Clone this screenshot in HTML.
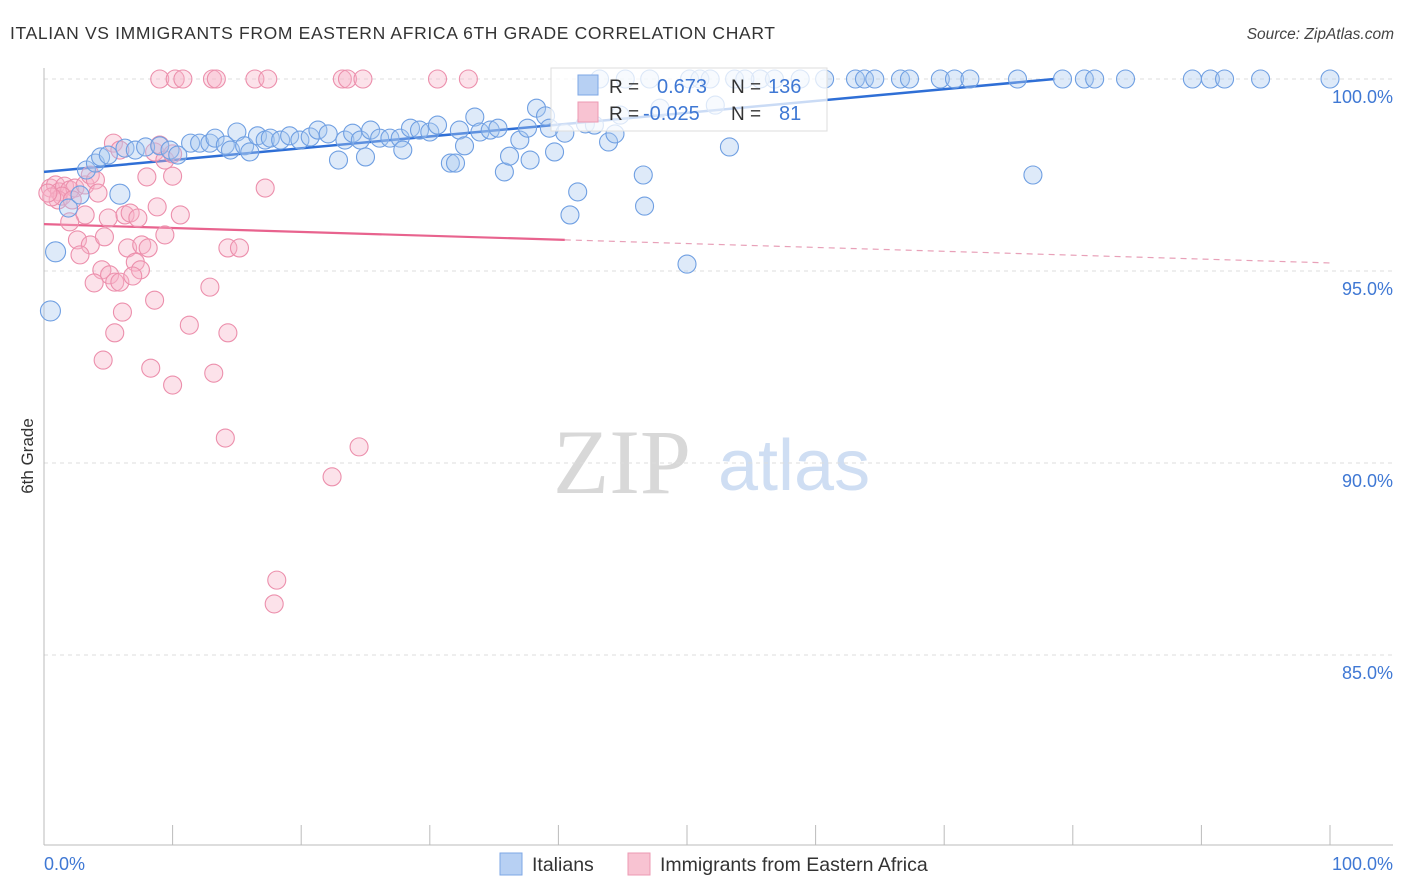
<!DOCTYPE html>
<html><head><meta charset="utf-8"><style>
body{margin:0;background:#fff;font-family:"Liberation Sans",sans-serif}
svg{display:block}
</style></head><body>
<svg id="chart" width="1406" height="892" xmlns="http://www.w3.org/2000/svg" font-family="Liberation Sans, sans-serif">
<text x="10" y="39" font-size="17.5" fill="#333" textLength="765" lengthAdjust="spacing">ITALIAN VS IMMIGRANTS FROM EASTERN AFRICA 6TH GRADE CORRELATION CHART</text>
<text x="1394" y="39" font-size="15.5" fill="#444" font-style="italic" text-anchor="end">Source: ZipAtlas.com</text>
<g>
<text x="553" y="493" font-size="92" fill="#d8d8d8" font-family="Liberation Serif, serif">ZIP</text>
<text x="718" y="490" font-size="72" fill="#cfdef3">atlas</text>
</g>
<g id="grid"></g>
<g id="axes"></g>
<g id="lines"></g>
<g id="pts"></g>
<g>
<rect x="551" y="68" width="276" height="63" fill="#fff" fill-opacity="0.75" stroke="#ddd"/>
<rect x="578" y="75" width="20" height="20" fill="#b7d0f3" stroke="#7da7e6"/>
<rect x="578" y="102" width="20" height="20" fill="#f8c3d2" stroke="#ec9ab3"/>
<text x="609" y="93" font-size="19" fill="#333">R =</text>
<text x="657" y="93" font-size="20" fill="#3f78d4">0.673</text>
<text x="731" y="93" font-size="19" fill="#333">N =</text>
<text x="768" y="93" font-size="20" fill="#3f78d4">136</text>
<text x="609" y="120" font-size="19" fill="#333">R =</text>
<text x="643" y="120" font-size="20" fill="#3f78d4">-0.025</text>
<text x="731" y="120" font-size="19" fill="#333">N =</text>
<text x="779" y="120" font-size="20" fill="#3f78d4">81</text>
</g>
<g>
<rect x="500" y="853" width="22" height="22" fill="#b7d0f3" stroke="#7da7e6"/>
<text x="532" y="871" font-size="19.5" fill="#333">Italians</text>
<rect x="628" y="853" width="22" height="22" fill="#f8c3d2" stroke="#ec9ab3"/>
<text x="660" y="871" font-size="19.5" fill="#333">Immigrants from Eastern Africa</text>
</g>
<text transform="translate(33,456) rotate(-90)" font-size="17" fill="#333" text-anchor="middle">6th Grade</text>
</svg>
<script>
const blueX=[47.1,50.2,53.7,55.7,56.8,58.8,60.7,63.1,63.8,64.6,66.6,67.3,69.7,70.8,72.0,75.7,79.2,80.9,81.7,84.1,89.3,90.7,91.8,94.6,100,43.2,45.2,51.0,51.8,54.5,
0.9,0.5,5.9,1.9,2.8,3.3,4.0,4.4,5.0,6.3,7.1,7.9,9.0,9.8,10.4,11.4,12.1,12.9,13.3,14.1,14.5,15.0,15.6,16.0,16.6,17.2,17.6,18.4,19.1,19.9,20.7,21.3,22.1,22.9,23.4,24.0,24.6,25.0,25.4,26.1,26.9,27.7,27.9,28.5,29.2,30.0,30.6,31.6,32.0,32.3,32.7,33.5,33.9,34.7,35.3,35.8,36.2,37.0,37.6,37.8,38.3,39.0,39.3,39.7,40.5,40.9,41.5,42.1,42.8,43.9,44.4,46.6,46.7,50.0,53.3,76.9,52.2,47.9,44.8];
const blueY=[100,100,100,100,100,100,100,100,100,100,100,100,100,100,100,100,100,100,100,100,100,100,100,100,100,100,100,100,100,100,
95.5,93.96,97.0,96.64,96.98,97.63,97.81,97.97,98.02,98.2,98.15,98.23,98.26,98.15,98.02,98.33,98.33,98.33,98.46,98.28,98.15,98.62,98.26,98.1,98.52,98.41,98.46,98.41,98.52,98.41,98.49,98.67,98.57,97.89,98.41,98.59,98.41,97.97,98.67,98.46,98.46,98.46,98.15,98.72,98.67,98.62,98.8,97.81,97.81,98.67,98.26,99.01,98.62,98.67,98.72,97.58,97.99,98.41,98.72,97.89,99.24,99.04,98.72,98.1,98.59,96.46,97.06,98.83,98.8,98.36,98.57,97.5,96.69,95.18,98.23,97.5,99.32,99.24,99.06];
const pinkX=[0.5,0.9,1.2,1.6,2.0,2.4,1.1,1.4,2.2,0.6,0.3,3.2,3.6,4.0,4.2,5.4,5.9,8.6,9.0,9.4,10.0,8.0,10.0,3.2,2.0,2.6,3.6,2.8,4.7,5.0,6.3,6.7,7.3,8.8,9.4,10.6,6.5,7.6,8.1,7.1,7.5,4.5,5.1,3.9,5.5,5.9,6.9,8.6,12.9,14.3,15.2,17.2,6.1,11.3,14.3,5.5,4.6,8.3,13.2,10.0,14.1,24.5,22.4,18.1,17.9,
9.0,10.2,10.8,13.1,13.4,16.4,17.4,23.2,23.6,24.8,30.6,33.0];
const pinkY=[97.16,97.24,97.06,97.21,97.11,97.16,96.85,96.95,96.85,96.93,97.03,97.24,97.5,97.37,97.03,98.33,98.15,98.1,98.28,97.89,98.05,97.45,97.47,96.46,96.28,95.81,95.68,95.42,95.89,96.38,96.46,96.51,96.38,96.67,95.94,96.46,95.6,95.68,95.6,95.23,95.03,95.03,94.9,94.69,94.71,94.71,94.87,94.24,94.58,95.6,95.6,97.16,93.93,93.59,93.39,93.39,92.68,92.47,92.34,92.03,90.65,90.42,89.64,86.95,86.33,
100,100,100,100,100,100,100,100,100,100,100,100];
const yTicks=[100,95,90,85];
const yTickLabels=["100.0%","95.0%","90.0%","85.0%"];
const xTickCount=10;
const blueTrend=[97.58,100.66];
const pinkTrend=[96.22,95.21];
const pinkSolidEnd=40.5;

const NS="http://www.w3.org/2000/svg";
const X=v=>44+v*12.86;
const Y=v=>79+(100-v)*38.4;
function mk(tag,attrs,parent){const e=document.createElementNS(NS,tag);for(const k in attrs)e.setAttribute(k,attrs[k]);parent.appendChild(e);return e;}
const grid=document.getElementById('grid'),axes=document.getElementById('axes'),lines=document.getElementById('lines'),pts=document.getElementById('pts');
yTicks.forEach((t,i)=>{
  const l=mk('line',{x1:44,x2:1393,y1:Y(t),y2:Y(t),stroke:'#ddd','stroke-dasharray':'4,4'},grid);
  
  
  const tx=mk('text',{x:1393,y:Y(t)+24,'font-size':18,fill:'#3f78d4','text-anchor':'end'},axes);
  tx.textContent=yTickLabels[i];
  
  
});
mk('line',{x1:44,x2:44,y1:68,y2:845,stroke:'#bbb'},axes);
mk('line',{x1:44,x2:1393,y1:845,y2:845,stroke:'#bbb'},axes);
for(let i=1;i<=xTickCount;i++){
  const t=mk('line',{x1:X(i*10),x2:X(i*10),y1:825,y2:845,stroke:'#bbb'},axes);
  
  
}
const x0=mk('text',{x:44,y:870,'font-size':18,fill:'#3f78d4'},axes);x0.textContent='0.0%';


const x1=mk('text',{x:1393,y:870,'font-size':18,fill:'#3f78d4','text-anchor':'end'},axes);x1.textContent='100.0%';



pinkX.forEach((v,i)=>{
  const c=mk('circle',{cx:X(v),cy:Y(pinkY[i]),r:9,fill:'#f6b3c7','fill-opacity':0.38,stroke:'#ec8fac','stroke-width':1.1},pts);
  
  
});
blueX.forEach((v,i)=>{
  const big=(v<1.5&&blueY[i]<96)||(v===5.9&&blueY[i]===97.0);
  const c=mk('circle',{cx:X(v),cy:Y(blueY[i]),r:big?10:9,fill:'#a9c7f0','fill-opacity':0.38,stroke:'#6f9fe2','stroke-width':1.1},pts);
  
  
});
const slope=(blueTrend[1]-blueTrend[0])/100;
const xEnd=Math.min(100,(100-blueTrend[0])/slope);
const bl=mk('line',{x1:X(0),y1:Y(blueTrend[0]),x2:X(xEnd),y2:Y(blueTrend[0]+slope*xEnd),stroke:'#2f6fd6','stroke-width':2.5},lines);


const ps=(pinkTrend[1]-pinkTrend[0])/100;
const pl=mk('line',{x1:X(0),y1:Y(pinkTrend[0]),x2:X(pinkSolidEnd),y2:Y(pinkTrend[0]+ps*pinkSolidEnd),stroke:'#e8638e','stroke-width':2.2},lines);


const pd=mk('line',{x1:X(pinkSolidEnd),y1:Y(pinkTrend[0]+ps*pinkSolidEnd),x2:X(100),y2:Y(pinkTrend[1]),stroke:'#e8a0b8','stroke-width':1.2,'stroke-dasharray':'6,5'},lines);


</script>
</body></html>
